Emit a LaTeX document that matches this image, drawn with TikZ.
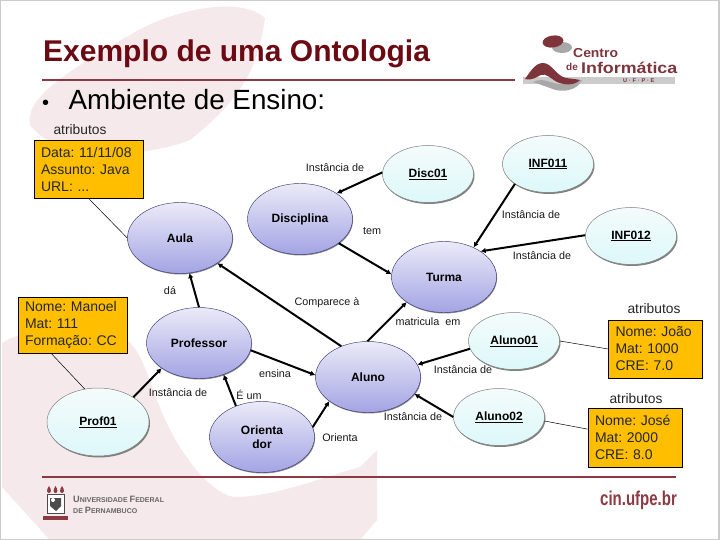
\documentclass[tikz,border=0pt]{standalone}
\usepackage{fontspec}
\setmainfont{Liberation Sans}
\usepackage{xcolor}
\definecolor{cintitle}{HTML}{6B0A12}
\definecolor{cinrule}{HTML}{8C3A42}
\definecolor{cinpink}{HTML}{F5E9EB}
\definecolor{cingray}{HTML}{A8A8A8}
\definecolor{conctop}{HTML}{EAEAF8}
\definecolor{concbot}{HTML}{A4A4E4}
\definecolor{concline}{HTML}{3A3A78}
\definecolor{insttop}{HTML}{F4FBFB}
\definecolor{instbot}{HTML}{DDF8FA}
\definecolor{attrfill}{HTML}{FFBF00}
\usetikzlibrary{arrows.meta,positioning,shapes.geometric,shadows}

\begin{document}
\begin{tikzpicture}[
  x=1pt, y=-1pt,
  conc/.style={ellipse, draw=concline, line width=0.45pt,
               top color=conctop, bottom color=concbot,
               minimum width=105pt, minimum height=71pt, inner sep=0pt,
               align=center, font=\fontsize{12}{14}\selectfont\bfseries,
               drop shadow={shadow xshift=0.6pt, shadow yshift=-1pt, fill=black!45, opacity=1}},
  inst/.style={ellipse, draw=black!50, line width=0.5pt,
               top color=insttop, bottom color=instbot,
               minimum width=91pt, minimum height=57pt, inner sep=0pt,
               align=center, font=\fontsize{12}{14}\selectfont\bfseries,
               drop shadow={shadow xshift=1pt, shadow yshift=-1.5pt, fill=black!50, opacity=1}},
  attr/.style={rectangle, draw=black, fill=attrfill, line width=0.7pt,
               inner xsep=7pt, inner ysep=0pt, align=left,
               font=\fontsize{14}{17}\selectfont\frenchspacing, text=black!85},
  rel/.style={-{Latex[length=5pt,width=5.5pt]}, line width=2pt, black},
  lnk/.style={line width=0.5pt, black},
  lab/.style={font=\fontsize{10.8}{12}\selectfont, text=black!90, inner sep=0pt},
  hdr/.style={font=\fontsize{13.8}{15}\selectfont, text=black!85, inner sep=0pt},
  rulebar/.style={line width=2.6pt, cinrule},
]
\useasboundingbox (0,0) rectangle (720,540);

% ================= slide background
\fill[white] (0,0) rectangle (720,540);
\fill[cinpink] (265,18) .. controls (258,70) and (240,100) .. (190,140)
  .. controls (150,156) and (60,165) .. (30,125)
  .. controls (25,100) and (60,75) .. (130,35)
  .. controls (170,10) and (240,-5) .. (265,18) -- cycle;
\fill[cinpink] (2,343) .. controls (30,325) and (100,320) .. (127,340)
  .. controls (150,360) and (150,400) .. (180,447)
  .. controls (200,480) and (225,500) .. (240,497)
  .. controls (280,495) and (330,475) .. (360,467)
  -- (377,450) -- (377,520) -- (360,540) -- (50,540) -- (2,487) -- cycle;
\draw[black!20, line width=1.4pt] (0.7,0.7) rectangle (719,539.3);

% ================= title and rules
\node[anchor=base west, inner sep=0pt, text=cintitle, font=\fontsize{30}{32}\selectfont\bfseries]
  (title) at (43,62) {Exemplo de uma Ontologia};
\draw[rulebar] (42,80) -- (515,80);
\draw[rulebar] (42,477) -- (676,477);
\node[anchor=base west, inner sep=0pt, font=\fontsize{27.8}{30}\selectfont]
  (topic) at (42,110) {{\fontsize{20}{20}\selectfont\textbullet}\hspace{19.5pt}Ambiente de Ensino:};

% ================= logo of the centre
\fill[cingray!60] (523,77) rectangle (675,84);
\fill[cingray] (533,82) .. controls (545,76) and (552,86) .. (566,84)
  .. controls (572,83) and (578,80) .. (582,80)
  .. controls (578,90) and (562,94) .. (550,88) -- cycle;
\fill[cinrule!90!black] (525,79) .. controls (530,72) and (535,63) .. (543,63)
  .. controls (552,63) and (556,76) .. (566,78)
  .. controls (572,79) and (576,79) .. (580,80)
  .. controls (574,86) and (564,85) .. (557,82)
  .. controls (550,78) and (546,73) .. (541,75)
  .. controls (536,77) and (532,81) .. (525,79) -- cycle;
\fill[cingray] (562,47.5) ellipse [x radius=10, y radius=5.5];
\fill[cinrule!90!black, rotate around={8:(553,41.5)}] (553,41.5) ellipse [x radius=10.5, y radius=6];
\node[anchor=base west, inner sep=0pt, text=cinrule!90!black, font=\fontsize{13}{13}\selectfont\bfseries]
  (centro) at (573,58) {\scalebox{1.07}[1]{Centro}};
\node[anchor=base west, inner sep=0pt, text=cinrule!90!black, font=\fontsize{10}{10}\selectfont\bfseries]
  (dede) at (566,71) {de};
\node[anchor=base west, inner sep=0pt, text=cinrule!90!black, font=\fontsize{15.5}{16}\selectfont\bfseries]
  (inform) at (581,74) {\scalebox{1.15}[1]{Informática}};
\node[anchor=base west, inner sep=0pt, text=cinrule!90!black, font=\fontsize{5.5}{6}\selectfont\bfseries]
  (ufpetag) at (623,83) {U\,\,·\,\,F\,\,·\,\,P\,\,·\,\,E};

% ================= logo of the university and site
\draw[black!70, fill=white, line width=0.8pt] (47,494) rectangle (64,513);
\fill[black!70] (50,498) -- (61,498) -- (61,506) -- (56,511) -- (50,506) -- cycle;
\fill[white] (53,500) circle [radius=2];
\foreach \xf in {49,55.5,62}
  \fill[cinrule] (\xf,486) .. controls (\xf+3,490) and (\xf+2,493) .. (\xf,493)
    .. controls (\xf-2,493) and (\xf-3,490) .. (\xf,486) -- cycle;
\fill[cinrule] (43,516) rectangle (68,520);
\node[anchor=base west, inner sep=0pt, text=black!60, font=\fontsize{7}{8}\selectfont\bfseries]
  (ufpea) at (73,502) {{\fontsize{9.2}{9}\selectfont U}NIVERSIDADE {\fontsize{9.2}{9}\selectfont F}EDERAL};
\node[anchor=base west, inner sep=0pt, text=black!60, font=\fontsize{7}{8}\selectfont\bfseries]
  (ufpeb) at (73,513) {DE {\fontsize{9.2}{9}\selectfont P}ERNAMBUCO};
\node[anchor=base west, inner sep=0pt, text=cinrule, font=\fontsize{20}{20}\selectfont\bfseries]
  (site) at (600,505) {\scalebox{0.75}[1]{cin.ufpe.br}};

% ================= concepts
\node[conc] (aula)  at (180,238) {Aula};
\node[conc] (disc)  at (300,219) {Disciplina};
\node[conc] (turma) at (444,277) {Turma};
\node[conc] (prof)  at (199,343) {Professor};
\node[conc] (orie)  at (262,437) {Orienta\\dor};
\node[conc] (alun)  at (368,377) {Aluno};

% ================= instances
\node[inst] (dzo) at (428,174) {\underline{Disc01}};
\node[inst] (ina) at (548,164) {\underline{INF011}};
\node[inst] (inb) at (631,236) {\underline{INF012}};
\node[inst] (aza) at (514,341) {\underline{Aluno01}};
\node[inst] (azb) at (499,417) {\underline{Aluno02}};
\node[inst, minimum width=102pt, minimum height=68pt] (pzo) at (98,422) {\underline{Prof01}};

% ================= attributes
\node[attr, text width=95pt, minimum height=58pt] (aaula) at (88.5,169) {Data: 11/11/08\\Assunto: Java\\URL: ...};
\node[attr, text width=95pt, minimum height=56pt] (aman) at (72.5,325) {Nome: Manoel\\Mat: 111\\Formação: CC};
\node[attr, text width=80pt, minimum height=58pt] (ajoa) at (655.5,349) {Nome: João\\Mat: 1000\\CRE: 7.0};
\node[attr, text width=80pt, minimum height=59pt] (ajos) at (635,437.5) {Nome: José\\Mat: 2000\\CRE: 8.0};
\node[hdr] (haula) at (80,130) {atributos};
\node[hdr] (hjoa)  at (654,309) {atributos};
\node[hdr] (hjos)  at (636,399) {atributos};

% ================= relations
\draw[rel] (dzo.178) -- (disc.35);
\draw[rel] (disc.-32) -- (turma.177);
\draw[rel] (alun.131) -- (aula.-34);
\draw[rel] (prof.90) -- (aula.-75);
\draw[rel] (alun.91) -- (turma.214);
\draw[rel] (ina.211) -- (turma.45);
\draw[rel] (inb.179) -- (turma.35);
\draw[rel] (aza.190) -- (alun.14);
\draw[rel] (azb.180) -- (alun.-20);
\draw[rel] (pzo.35) -- (prof.214);
\draw[rel] (orie.130) -- (prof.-52);
\draw[rel] (orie.11) -- (alun.212);
\draw[rel] (prof.-8) -- (alun.178);

% ================= attribute links
\draw[lnk] (aaula.south) -- (aula.180);
\draw[lnk] (aman.233) -- (pzo.112);
\draw[lnk] (aza.0) -- (ajoa.west);
\draw[lnk] (azb.-5) -- (ajos.170);

% ================= relation labels
\node[lab] (ldisc) at (335,168) {Instância de};
\node[lab] (ltem)  at (372,231) {tem};
\node[lab] (lina)  at (531,215) {Instância de};
\node[lab] (linb)  at (542,256) {Instância de};
\node[lab] (lda)   at (170,291) {dá};
\node[lab] (lcomp) at (327,303) {Comparece à};
\node[lab] (lmat)  at (428,322) {matricula~~em};
\node[lab] (lens)  at (275,374) {ensina};
\node[lab] (lpzo)  at (178,393) {Instância de};
\node[lab] (leum)  at (249,395) {É um};
\node[lab] (lori)  at (340,438) {Orienta};
\node[lab] (laza)  at (463,370) {Instância de};
\node[lab] (lazb)  at (413,417) {Instância de};
\end{tikzpicture}
\end{document}
